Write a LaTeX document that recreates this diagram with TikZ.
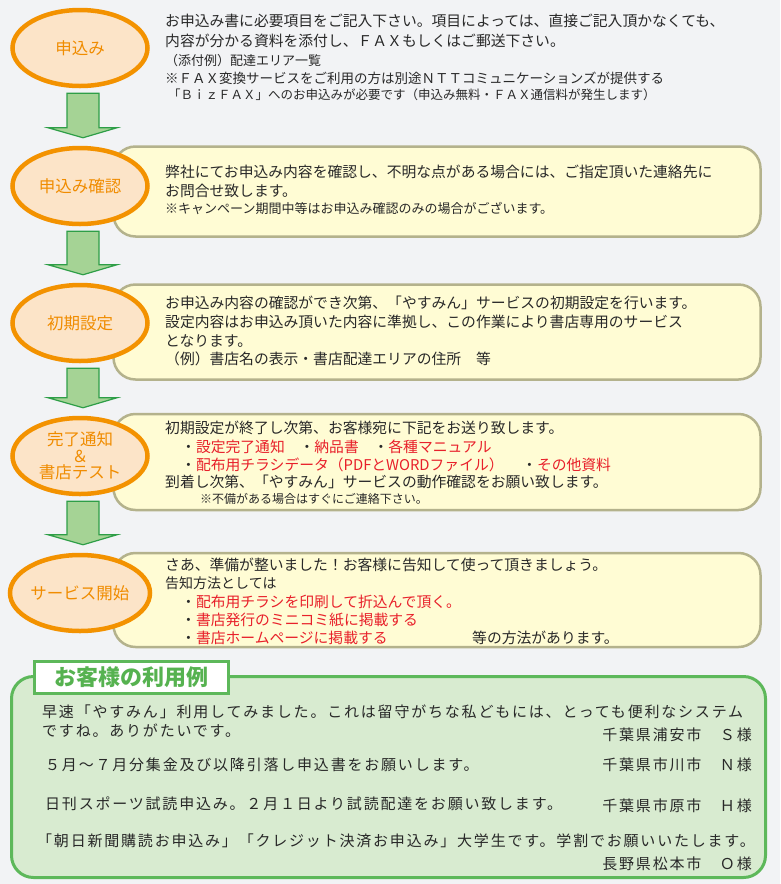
\documentclass[tikz,border=0pt]{standalone}
\usepackage{fontspec}
\setmainfont{Noto Sans CJK JP}
\newfontfamily\casefont[LetterSpace=12]{Noto Sans CJK JP}
\usetikzlibrary{shapes.geometric,calc}
\definecolor{bgcol}{RGB}{242,243,245}
\definecolor{ellfill}{RGB}{252,228,200}
\definecolor{ellline}{RGB}{243,146,0}
\definecolor{elltext}{RGB}{240,140,0}
\definecolor{boxfill}{RGB}{255,252,212}
\definecolor{boxline}{RGB}{180,178,140}
\definecolor{arrfill}{RGB}{165,211,149}
\definecolor{arrline}{RGB}{46,158,71}
\definecolor{ink}{RGB}{40,40,40}
\definecolor{redtext}{RGB}{232,32,42}
\definecolor{grnfill}{RGB}{216,235,208}
\definecolor{grnline}{RGB}{93,184,90}
\definecolor{tabtext}{RGB}{86,178,80}
\tikzset{
  stepell/.style={ellipse, draw=ellline, line width=4.5pt, fill=ellfill,
    minimum width=135pt, minimum height=76pt, inner sep=0pt, align=center,
    text=elltext, font=\fontsize{16.5}{17}\selectfont},
  stepbox/.style={draw=boxline, line width=2.5pt, fill=boxfill,
    rounded corners=22pt, inner sep=0pt, minimum width=647pt},
  txt/.style={anchor=west, inner sep=0pt, text=ink, font=\fontsize{14.8}{16}\selectfont},
  smalltxt/.style={txt, font=\fontsize{13}{15}\selectfont},
  redtxt/.style={txt, text=redtext},
  casetxt/.style={anchor=west, inner sep=0pt, text=ink, font=\casefont\fontsize{15}{16}\selectfont},
  casename/.style={casetxt, anchor=east},
  blockarrow/.style={fill=arrfill, draw=arrline, line width=1.2pt, line join=miter},
}
\newcommand\flowarrow[2]{%
  \draw[blockarrow] ($(#1.south)+(-13,5)$) -- ($(#1.south)+(19,5)$)
    -- ($(#2.north)+(19,-18)$) -- ($(#2.north)+(37,-18)$)
    -- ($(#2.north)+(3,-8)$) -- ($(#2.north)+(-32,-18)$)
    -- ($(#2.north)+(-13,-18)$) -- cycle;}
\begin{document}
\begin{tikzpicture}[x=1pt,y=-1pt]
\fill[bgcol] (0,0) rectangle (780,884);
\useasboundingbox (0,0) rectangle (780,884);

% boxes
\node[stepbox, minimum height=90pt] (b2) at (437,191.5) {};
\node[stepbox, minimum height=95pt] (b3) at (437,332) {};
\node[stepbox, minimum height=96pt] (b4) at (437,462) {};
\node[stepbox, minimum height=94pt] (b5) at (437,600) {};

% ellipses
\node[stepell] (e1) at (80,48) {申込み};
\node[stepell] (e2) at (80,186) {申込み確認};
\node[stepell] (e3) at (80,323) {初期設定};
\node[stepell, font=\fontsize{16.5}{16.5}\selectfont] (e4) at (80,456) {完了通知\\＆\\書店テスト};
\node[stepell] (e5) at (80,593) {サービス開始};

% arrows
\flowarrow{e1}{e2}
\flowarrow{e2}{e3}
\flowarrow{e3}{e4}
\flowarrow{e4}{e5}

% step 1 text
\node[txt] (t11) at (165,21) {お申込み書に必要項目をご記入下さい。項目によっては、直接ご記入頂かなくても、};
\node[txt] (t12) at (165,41) {内容が分かる資料を添付し、ＦＡＸもしくはご郵送下さい。};
\node[smalltxt] (t13) at (165,61) {（添付例）配達エリア一覧};
\node[smalltxt, font=\fontsize{13.5}{15}\selectfont] (t14) at (165,78) {※ＦＡＸ変換サービスをご利用の方は別途ＮＴＴコミュニケーションズが提供する};
\node[smalltxt, font=\fontsize{12.5}{15}\selectfont] (t15) at (168,95) {「ＢｉｚＦＡＸ」へのお申込みが必要です（申込み無料・ＦＡＸ通信料が発生します）};

% step 2 text
\node[txt] (t21) at (165,172) {弊社にてお申込み内容を確認し、不明な点がある場合には、ご指定頂いた連絡先に};
\node[txt] (t22) at (165,191) {お問合せ致します。};
\node[smalltxt] (t23) at (165,208) {※キャンペーン期間中等はお申込み確認のみの場合がございます。};

% step 3 text
\node[txt] (t31) at (165,303) {お申込み内容の確認ができ次第、「やすみん」サービスの初期設定を行います。};
\node[txt] (t32) at (165,322) {設定内容はお申込み頂いた内容に準拠し、この作業により書店専用のサービス};
\node[txt] (t33) at (165,341) {となります。};
\node[txt] (t34) at (165,359) {（例）書店名の表示・書店配達エリアの住所　等};

% step 4 text
\node[txt] (t41) at (165,428) {初期設定が終了し次第、お客様宛に下記をお送り致します。};
\node[txt] (t42) at (181,447) {・\textcolor{redtext}{設定完了通知}　・\textcolor{redtext}{納品書}　・\textcolor{redtext}{各種マニュアル}};
\node[txt] (t43) at (181,465) {・\textcolor{redtext}{配布用チラシデータ（PDFとWORDファイル）}};
\node[txt] (t44) at (522,465) {・\textcolor{redtext}{その他資料}};
\node[txt] (t45) at (165,482) {到着し次第、「やすみん」サービスの動作確認をお願い致します。};
\node[smalltxt, font=\fontsize{12}{14}\selectfont] (t46) at (200,499) {※不備がある場合はすぐにご連絡下さい。};

% step 5 text
\node[txt] (t51) at (165,565) {さあ、準備が整いました！お客様に告知して使って頂きましょう。};
\node[smalltxt, font=\fontsize{14}{15}\selectfont] (t52) at (165,583) {告知方法としては};
\node[txt] (t53) at (181,602) {・\textcolor{redtext}{配布用チラシを印刷して折込んで頂く。}};
\node[txt] (t54) at (181,620) {・\textcolor{redtext}{書店発行のミニコミ紙に掲載する}};
\node[txt] (t55) at (181,638) {・\textcolor{redtext}{書店ホームページに掲載する}};
\node[txt] (t56) at (472,638) {等の方法があります。};

% customer examples
\node[draw=grnline, line width=3pt, fill=grnfill, rounded corners=22pt,
  minimum width=754pt, minimum height=201pt, inner sep=0pt] (cases) at (388.5,777) {};
\node[draw=grnline, line width=3pt, fill=white, minimum width=194pt,
  minimum height=32pt, inner sep=0pt, text=tabtext,
  font=\bfseries\fontsize{22}{24}\selectfont] (tab) at (131.5,677) {お客様の利用例};

\node[casetxt] (c11) at (42,712) {早速「やすみん」利用してみました。これは留守がちな私どもには、とっても便利なシステム};
\node[casetxt] (c12) at (42,731) {ですね。ありがたいです。};
\node[casename] (n1) at (752,735) {千葉県浦安市　Ｓ様};
\node[casetxt] (c21) at (45,765) {５月～７月分集金及び以降引落し申込書をお願いします。};
\node[casename] (n2) at (752,765) {千葉県市川市　Ｎ様};
\node[casetxt] (c31) at (45,804) {日刊スポーツ試読申込み。２月１日より試読配達をお願い致します。};
\node[casename] (n3) at (752,806) {千葉県市原市　Ｈ様};
\node[casetxt] (c41) at (37,841) {「朝日新聞購読お申込み」「クレジット決済お申込み」大学生です。学割でお願いいたします。};
\node[casename] (n4) at (752,864) {長野県松本市　Ｏ様};
\end{tikzpicture}
\end{document}
